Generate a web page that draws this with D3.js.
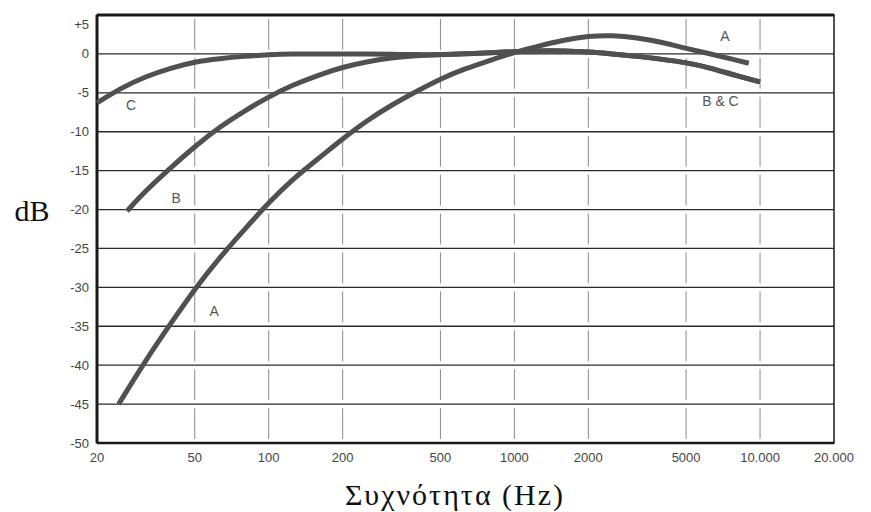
<!DOCTYPE html>
<html>
<head>
<meta charset="utf-8">
<script src="https://cdn.jsdelivr.net/npm/d3@7"></script>
<style>
body { margin: 0; background: #fff; }
.serif { font-family: "Liberation Serif", "Times New Roman", Tinos, Times, "DejaVu Serif", "Noto Serif", FreeSerif, serif; }
</style>
</head>
<body>
<div id="weighting_chart"></div>
<script>
//curve data (frequency in Hz, level in dB)
var freqA = [24.5, 31.5, 40, 50, 63, 80, 100, 125, 160, 200, 250, 315, 400, 500, 630, 800, 1000, 1250, 1600, 2000, 2500, 3150, 4000, 5000, 6300, 8000, 9000];
var dbA = [-45, -39.4, -34.6, -30.2, -26.2, -22.5, -19.1, -16.1, -13.4, -10.9, -8.6, -6.6, -4.8, -3.2, -1.9, -0.8, 0.2, 1.0, 1.8, 2.3, 2.4, 2.1, 1.5, 0.7, 0.0, -0.8, -1.2];

var freqB = [26.5, 31.5, 40, 50, 63, 80, 100, 125, 160, 200, 250, 315, 400, 500, 630, 800, 1000, 1250, 1600, 2000, 2500, 3150, 4000, 5000, 6300, 8000, 10000];
var dbB = [-20.2, -17.6, -14.6, -11.9, -9.4, -7.3, -5.5, -4.0, -2.7, -1.7, -1.0, -0.5, -0.2, -0.1, 0.0, 0.15, 0.3, 0.4, 0.4, 0.25, 0.0, -0.3, -0.7, -1.1, -1.8, -2.8, -3.6];

var freqC = [20, 25, 31.5, 40, 50, 63, 80, 100, 125, 160, 200, 250, 315, 400, 500, 630, 800, 1000, 1250, 1600, 2000, 2500, 3150, 4000, 5000, 6300, 8000, 10000];
var dbC = [-6.3, -4.4, -2.9, -1.8, -1.0, -0.6, -0.3, -0.1, 0.0, 0.0, 0.0, 0.0, -0.05, -0.1, -0.1, 0.0, 0.15, 0.3, 0.4, 0.4, 0.25, 0.0, -0.3, -0.7, -1.1, -1.8, -2.8, -3.6];

//tick values and labels
var xTicks = [20, 50, 100, 200, 500, 1000, 2000, 5000, 10000, 20000];
var xTickLabels = ["20", "50", "100", "200", "500", "1000", "2000", "5000", "10.000", "20.000"];
var yTicks = [5, 0, -5, -10, -15, -20, -25, -30, -35, -40, -45, -50];
var yTickLabels = ["+5", "0", "-5", "-10", "-15", "-20", "-25", "-30", "-35", "-40", "-45", "-50"];

//curve labels
var curveNames = ["C", "B", "A", "A", "B & C"];
var labelFreq = [27.5, 42, 60, 7200, 6900];
var labelDb = [-6.6, -18.5, -33, 2.3, -6.1];

//setting dimensions and margins
var margin = {top: 15, right: 37, bottom: 69, left: 97},
width = 871 - margin.left - margin.right,
height = 512 - margin.top - margin.bottom;

//appending svg object to body
var svg = d3.select("#weighting_chart")
.append("svg")
.attr("width", 871)
.attr("height", 512)
.append("g")
.attr("transform", "translate(" + margin.left + "," + margin.top + ")");

//log scale for frequency, linear for dB
var xScale = d3.scaleLog().domain([20, 20000]).range([0, width]);
var yScale = d3.scaleLinear().domain([-50, 5]).range([height, 0]);

var sansFont = "'Liberation Sans', Arial, sans-serif";

//horizontal grid lines
svg.append("g")
  .selectAll("line")
  .data(yTicks.filter(function(d) { return d < 5 && d > -50; }))
  .enter().append("line")
  .attr("x1", 0)
  .attr("x2", width)
  .attr("y1", function(d) { return yScale(d); })
  .attr("y2", function(d) { return yScale(d); })
  .attr("stroke", "#2a2a2a")
  .attr("stroke-width", 1.3);

//vertical grid lines, broken near each horizontal line
var band = yScale(0) - yScale(5);
svg.append("g")
  .selectAll("line")
  .data(xTicks.slice(1, -1))
  .enter().append("line")
  .attr("x1", function(d) { return xScale(d); })
  .attr("x2", function(d) { return xScale(d); })
  .attr("y1", 4)
  .attr("y2", height)
  .attr("stroke", "#8a8a8a")
  .attr("stroke-width", 1)
  .attr("stroke-dasharray", (band - 8) + "," + 8);

//frame
svg.append("rect")
  .attr("x", 0)
  .attr("y", 0)
  .attr("width", width)
  .attr("height", height)
  .attr("fill", "none")
  .attr("stroke", "#1a1a1a")
  .attr("stroke-width", 1.5);
svg.append("line")
  .attr("x1", 0).attr("x2", width)
  .attr("y1", 0).attr("y2", 0)
  .attr("stroke", "#1a1a1a")
  .attr("stroke-width", 3);
svg.append("line")
  .attr("x1", 0).attr("x2", 0)
  .attr("y1", 0).attr("y2", height)
  .attr("stroke", "#1a1a1a")
  .attr("stroke-width", 3);
svg.append("line")
  .attr("x1", 0).attr("x2", width)
  .attr("y1", height).attr("y2", height)
  .attr("stroke", "#1a1a1a")
  .attr("stroke-width", 2.5);

//y axis labels
svg.append("g")
  .selectAll("text")
  .data(yTicks)
  .enter().append("text")
  .attr("x", -8)
  .attr("y", function(d) { return yScale(d) + (d === 5 ? 9 : 0); })
  .attr("dy", "0.35em")
  .attr("text-anchor", "end")
  .style("font-family", sansFont)
  .style("font-size", "13px")
  .style("fill", "#444")
  .text(function(d, i) { return yTickLabels[i]; });

//x axis labels
svg.append("g")
  .selectAll("text")
  .data(xTicks)
  .enter().append("text")
  .attr("x", function(d) { return xScale(d); })
  .attr("y", height + 19)
  .attr("text-anchor", "middle")
  .style("font-family", sansFont)
  .style("font-size", "13px")
  .style("fill", "#444")
  .text(function(d, i) { return xTickLabels[i]; });

//curves
var line = d3.line()
  .x(function(d) { return xScale(d[0]); })
  .y(function(d) { return yScale(d[1]); })
  .curve(d3.curveBasis);

var curves = [d3.zip(freqC, dbC), d3.zip(freqB, dbB), d3.zip(freqA, dbA)];
svg.append("g")
  .selectAll("path")
  .data(curves)
  .enter().append("path")
  .attr("d", line)
  .attr("fill", "none")
  .attr("stroke", "#505050")
  .attr("stroke-width", 5)
  .attr("stroke-linecap", "butt");

//curve labels
svg.append("g")
  .selectAll("text")
  .data(curveNames)
  .enter().append("text")
  .attr("x", function(d, i) { return xScale(labelFreq[i]); })
  .attr("y", function(d, i) { return yScale(labelDb[i]); })
  .attr("dy", "0.35em")
  .attr("text-anchor", "middle")
  .style("font-family", sansFont)
  .style("font-size", "14px")
  .style("fill", "#555")
  .text(function(d) { return d; });

//axis titles
svg.append("text")
  .attr("class", "serif")
  .attr("x", 32 - margin.left)
  .attr("y", yScale(-20) + 1)
  .attr("dy", "0.35em")
  .attr("text-anchor", "middle")
  .attr("font-size", 30)
  .attr("fill", "#111")
  .text("dB");

svg.append("text")
  .attr("class", "serif")
  .attr("x", 455 - margin.left)
  .attr("y", height + 62)
  .attr("text-anchor", "middle")
  .attr("font-size", 30)
  .attr("letter-spacing", 2)
  .attr("fill", "#111")
  .text("Συχνότητα (Hz)");
</script>
</body>
</html>
